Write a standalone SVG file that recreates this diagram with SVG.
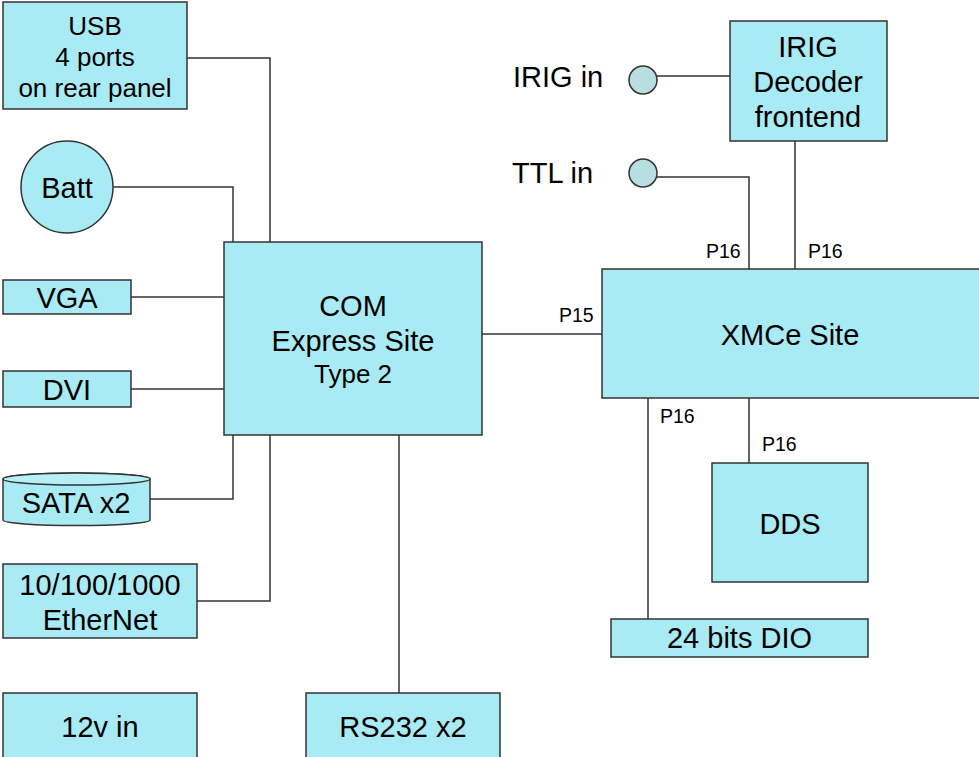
<svg xmlns="http://www.w3.org/2000/svg" width="979" height="757" viewBox="0 0 979 757">
<style>
.b{fill:#a9ebf4;stroke:#333;stroke-width:1.5}
.c{fill:#b8dee2;stroke:#333;stroke-width:1.5}
.l{fill:none;stroke:#333;stroke-width:1.5}
text{font-family:"Liberation Sans",Arial,sans-serif;fill:#000;text-anchor:middle;font-size:29px}
.s{font-size:19.5px;text-anchor:start}
.u{font-size:26px}
</style>
<rect width="979" height="757" fill="#fff"/>
<g id="connectors">
<polyline class="l" points="187,58 270,58 270,242"/>
<polyline class="l" points="113,187 233,187 233,242"/>
<line class="l" x1="131" y1="297" x2="224" y2="297"/>
<line class="l" x1="131" y1="389" x2="224" y2="389"/>
<polyline class="l" points="150,499 233,499 233,435"/>
<polyline class="l" points="197,601 270,601 270,435"/>
<line class="l" x1="399" y1="435" x2="399" y2="693"/>
<line class="l" x1="482" y1="334" x2="602" y2="334"/>
<line class="l" x1="657" y1="76" x2="730" y2="76"/>
<polyline class="l" points="657,177 749,177 749,269"/>
<line class="l" x1="795" y1="141" x2="795" y2="269"/>
<line class="l" x1="648" y1="398" x2="648" y2="619"/>
<line class="l" x1="749" y1="398" x2="749" y2="463"/>
<text class="s" x="559" y="322">P15</text>
<text class="s" x="706" y="258">P16</text>
<text class="s" x="808" y="258">P16</text>
<text class="s" x="660" y="423">P16</text>
<text class="s" x="762" y="451">P16</text>
</g>
<g id="usb"><rect class="b" x="3" y="2" width="184" height="107"/>
<text class="u" x="95" y="35">USB</text><text class="u" x="95" y="66">4 ports</text><text class="u" x="95" y="97">on rear panel</text></g>
<g id="batt"><circle class="b" cx="67" cy="187" r="46"/><text x="67" y="198">Batt</text></g>
<g id="vga"><rect class="b" x="3" y="280" width="128" height="34"/><text x="67" y="308">VGA</text></g>
<g id="dvi"><rect class="b" x="3" y="371" width="128" height="36"/><text x="67" y="400">DVI</text></g>
<g id="sata"><path class="b" d="M3,479 V520 A73.5,5.5 0 0 0 150,520 V479 A73.5,6 0 0 0 3,479 Z"/>
<ellipse class="b" cx="76.5" cy="479" rx="73.5" ry="6" style="fill:#b6eff6"/>
<text x="76" y="513">SATA x2</text></g>
<g id="ethernet"><rect class="b" x="3" y="564" width="194" height="74"/><text x="100" y="595">10/100/1000</text><text x="100" y="630">EtherNet</text></g>
<g id="power"><rect class="b" x="3" y="693" width="194" height="70"/><text x="100" y="737">12v in</text></g>
<g id="rs232"><rect class="b" x="306" y="693" width="194" height="70"/><text x="403" y="737">RS232 x2</text></g>
<g id="com"><rect class="b" x="224" y="242" width="258" height="193"/>
<text x="353" y="316">COM</text><text x="353" y="351">Express Site</text><text x="353" y="383" style="font-size:26px">Type 2</text></g>
<g id="xmce"><rect class="b" x="602" y="269" width="380" height="129"/><text x="790" y="345">XMCe Site</text></g>
<g id="irigdec"><rect class="b" x="730" y="21" width="157" height="120"/>
<text x="808" y="57">IRIG</text><text x="808" y="92">Decoder</text><text x="808" y="127">frontend</text></g>
<g id="irigin"><circle class="c" cx="643" cy="80" r="14"/><text x="513" y="87" style="text-anchor:start">IRIG in</text></g>
<g id="ttlin"><circle class="c" cx="643" cy="173" r="14"/><text x="512" y="183" style="text-anchor:start">TTL in</text></g>
<g id="dds"><rect class="b" x="712" y="463" width="156" height="119"/><text x="790" y="534">DDS</text></g>
<g id="dio"><rect class="b" x="611" y="619" width="257" height="38"/><text x="739.5" y="648">24 bits DIO</text></g>
</svg>
